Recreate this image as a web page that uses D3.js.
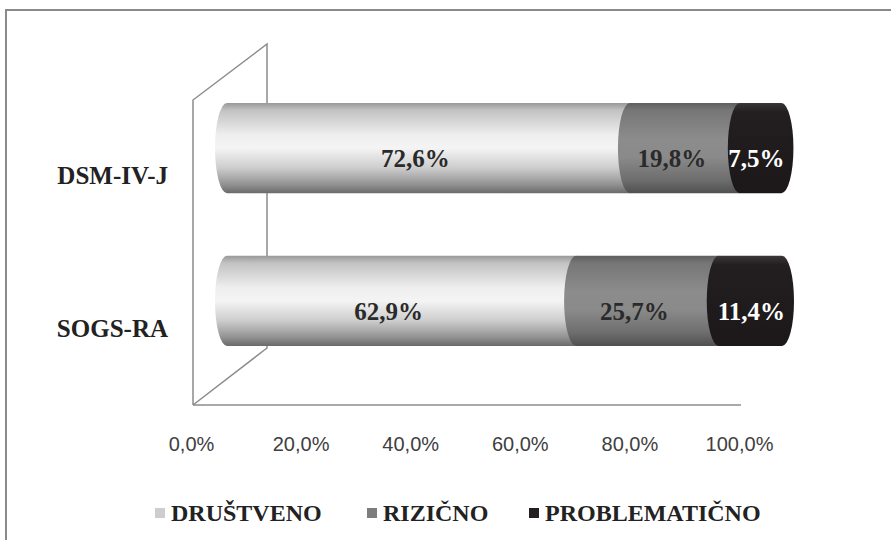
<!DOCTYPE html>
<html>
<head>
<meta charset="utf-8">
<script src="https://cdn.jsdelivr.net/npm/d3@7"></script>
<style>
  html, body { margin: 0; padding: 0; background: #fff; }
  svg { display: block; }
</style>
</head>
<body>
<div id="root"></div>
<script>
const width = 891;
const height = 540;

const categories = ['DSM-IV-J', 'SOGS-RA'];
const seriesNames = ['DRUŠTVENO', 'RIZIČNO', 'PROBLEMATIČNO'];
const drustveno = [72.6, 62.9];
const rizicno = [19.8, 25.7];
const problematicno = [7.5, 11.4];
const tickValues = [0, 20, 40, 60, 80, 100];

const serif = '"Liberation Serif", "DejaVu Serif", serif';
const sans = '"Liberation Sans", Arial, sans-serif';
const wallColor = '#8c8c8c';

const rows = categories.map((c, i) => ({
  cat: c,
  'DRUŠTVENO': drustveno[i],
  'RIZIČNO': rizicno[i],
  'PROBLEMATIČNO': problematicno[i]
}));
const stacked = d3.stack().keys(seriesNames)(rows);

const svg = d3.select('#root')
  .append('svg')
  .attr('width', width).attr('height', height);

// outer frame (runs off the right and bottom of the picture)
svg.append('rect')
  .attr('x', 6).attr('y', 10)
  .attr('width', 920).attr('height', 600)
  .attr('fill', 'none')
  .attr('stroke', '#8a8a8a')
  .attr('stroke-width', 2);

// scales: bars sit in the middle depth, axis labels on the front edge
const x = d3.scaleLinear().domain([0, 100]).range([227, 782]);
const xFront = d3.scaleLinear().domain([0, 100]).range([193, 741]);
const y = d3.scaleBand().domain(categories).range([103, 346]).paddingInner(0.41);

// 3d wall + floor edge
const wall = svg.append('g')
  .attr('fill', 'none')
  .attr('stroke', wallColor)
  .attr('stroke-width', 1.5);
wall.append('path')
  .attr('d', `M193,405 L193,100 L267,44 L267,348 L193,405`);
wall.append('line')
  .attr('x1', 193).attr('y1', 405)
  .attr('x2', xFront(100)).attr('y2', 405);

// gradients
const defs = svg.append('defs');
const grads = [
  { id: 'g0', stops: [[0, '#999999'], [0.08, '#c2c2c2'], [0.35, '#eeeeee'], [0.5, '#f4f4f4'], [0.72, '#cdcdcd'], [0.9, '#939393'], [1, '#6a6a6a']] },
  { id: 'g1', stops: [[0, '#5f5f5f'], [0.08, '#767676'], [0.4, '#8c8c8c'], [0.6, '#8a8a8a'], [0.85, '#6e6e6e'], [1, '#505050']] },
  { id: 'g2', stops: [[0, '#3a3738'], [0.1, '#231f20'], [1, '#1c1819']] }
];
grads.forEach(g => {
  const lg = defs.append('linearGradient')
    .attr('id', g.id)
    .attr('x1', 0).attr('y1', 0).attr('x2', 0).attr('y2', 1);
  g.stops.forEach(s => lg.append('stop').attr('offset', s[0]).attr('stop-color', s[1]));
});

const rx = 12;
function cylinder(x0, x1, top, bottom) {
  const ry = (bottom - top) / 2;
  return `M${x0},${top} L${x1},${top} A${rx},${ry} 0 0 1 ${x1},${bottom} ` +
    `L${x0},${bottom} A${rx},${ry} 0 0 1 ${x0},${top} Z`;
}

const fmt = v => d3.format('.1f')(v).replace('.', ',') + '%';

stacked.forEach((layer, si) => {
  const g = svg.append('g');
  g.selectAll('path')
    .data(layer).enter()
    .append('path')
    .attr('d', d => cylinder(x(d[0]), x(d[1]), y(d.data.cat), y(d.data.cat) + y.bandwidth()))
    .attr('fill', `url(#g${si})`);
  g.selectAll('text')
    .data(layer).enter()
    .append('text')
    .attr('x', d => si === 2 ? x(d[1]) + 3 : (x(d[0]) + x(d[1])) / 2 - 13)
    .attr('y', d => y(d.data.cat) + y.bandwidth() / 2 + 19)
    .attr('text-anchor', si === 2 ? 'end' : 'middle')
    .attr('font-family', serif)
    .attr('font-weight', 'bold')
    .attr('font-size', 25)
    .attr('fill', si === 2 ? '#ffffff' : '#2a2a2a')
    .text(d => fmt(d.data[layer.key]));
});

// category labels
svg.append('g').selectAll('text')
  .data(categories).enter()
  .append('text')
  .attr('x', 168)
  .attr('y', d => y(d) + y.bandwidth() / 2 + 36)
  .attr('text-anchor', 'end')
  .attr('font-family', serif)
  .attr('font-weight', 'bold')
  .attr('font-size', 25)
  .attr('fill', '#222')
  .text(d => d);

// x axis labels
const xAxis = d3.axisBottom(xFront)
  .tickValues(tickValues)
  .tickSize(0)
  .tickPadding(0)
  .tickFormat(d => d3.format('.1f')(d).replace('.', ',') + '%');
const ax = svg.append('g')
  .attr('transform', 'translate(-2, 437)')
  .call(xAxis);
ax.select('.domain').remove();
ax.selectAll('text')
  .attr('font-family', sans)
  .attr('font-size', 20)
  .attr('fill', '#404040');

// legend
const legendColors = ['#cdcdcd', '#7d7d7d', '#231f20'];
const legendX = [155, 367, 529];
const lg = svg.append('g').selectAll('g')
  .data(seriesNames).enter()
  .append('g')
  .attr('transform', (d, i) => `translate(${legendX[i]}, 508)`);
lg.append('rect')
  .attr('width', 10).attr('height', 10)
  .attr('fill', (d, i) => legendColors[i]);
lg.append('text')
  .attr('x', 16)
  .attr('y', 13)
  .attr('font-family', serif)
  .attr('font-weight', 'bold')
  .attr('font-size', 24)
  .attr('fill', '#222')
  .text(d => d);
</script>
</body>
</html>
